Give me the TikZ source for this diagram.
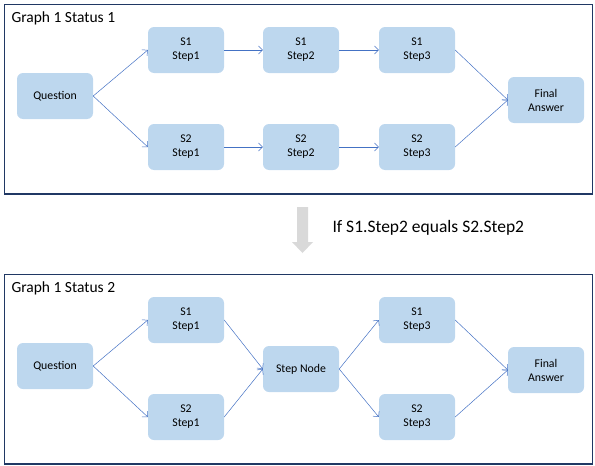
\documentclass[tikz,border=0pt]{standalone}
\usepackage{fontspec}
\setmainfont{Carlito}
\usetikzlibrary{arrows.meta}
\definecolor{boxfill}{HTML}{BDD7EE}
\definecolor{framecol}{HTML}{203864}
\definecolor{arrcol}{HTML}{4472C4}
\definecolor{graycol}{HTML}{D9D9D9}
\begin{document}
\begin{tikzpicture}[x=1pt,y=-1pt,
  stepbox/.style={fill=boxfill, rounded corners=6pt, minimum width=76pt, minimum height=46pt, align=center, font=\fontsize{11.8}{14}\selectfont, inner sep=0pt},
  conn/.style={draw=arrcol, line width=0.5pt, -{Straight Barb[length=4pt,width=8pt]}},
  frame/.style={draw=framecol, line width=1.3pt},
  title/.style={anchor=west, font=\fontsize{15.5}{17}\selectfont}]
\useasboundingbox (0,0) rectangle (595,466);
% frames
\draw[frame] (4.5,4.5) rectangle (592.5,194);
\draw[frame] (4.5,274.5) rectangle (592.5,464);
\node[title] (t1) at (8,18) {Graph 1 Status 1};
\node[title] (t2) at (8,288) {Graph 1 Status 2};
% status 1
\node[stepbox] (q1) at (55,96) {Question};
\node[stepbox] (a1) at (186,50) {S1\\Step1};
\node[stepbox] (b1) at (186,147) {S2\\Step1};
\node[stepbox] (a2) at (301,50) {S1\\Step2};
\node[stepbox] (b2) at (301,147) {S2\\Step2};
\node[stepbox] (a3) at (417,50) {S1\\Step3};
\node[stepbox] (b3) at (417,147) {S2\\Step3};
\node[stepbox] (f1) at (546,100) {Final\\Answer};
\draw[conn] (q1.east) -- (a1.west);
\draw[conn] (q1.east) -- (b1.west);
\draw[conn] (a1.east) -- (a2.west);
\draw[conn] (b1.east) -- (b2.west);
\draw[conn] (a2.east) -- (a3.west);
\draw[conn] (b2.east) -- (b3.west);
\draw[conn] (a3.east) -- (f1.west);
\draw[conn] (b3.east) -- (f1.west);
% transition
\fill[graycol] (297,207) -- (308,207) -- (308,242) -- (313,242) -- (302.5,253) -- (292,242) -- (297,242) -- cycle;
\node[anchor=west, font=\fontsize{17.5}{20}\selectfont] (cond) at (329,228) {If S1.Step2 equals S2.Step2};
% status 2
\node[stepbox] (q2) at (55,366) {Question};
\node[stepbox] (c1) at (186,320) {S1\\Step1};
\node[stepbox] (d1) at (186,417) {S2\\Step1};
\node[stepbox] (sn) at (301,369) {Step Node};
\node[stepbox] (c3) at (417,320) {S1\\Step3};
\node[stepbox] (d3) at (417,417) {S2\\Step3};
\node[stepbox] (f2) at (546,370) {Final\\Answer};
\draw[conn] (q2.east) -- (c1.west);
\draw[conn] (q2.east) -- (d1.west);
\draw[conn] (c1.east) -- (sn.west);
\draw[conn] (d1.east) -- (sn.west);
\draw[conn] (sn.east) -- (c3.west);
\draw[conn] (sn.east) -- (d3.west);
\draw[conn] (c3.east) -- (f2.west);
\draw[conn] (d3.east) -- (f2.west);
\end{tikzpicture}
\end{document}
